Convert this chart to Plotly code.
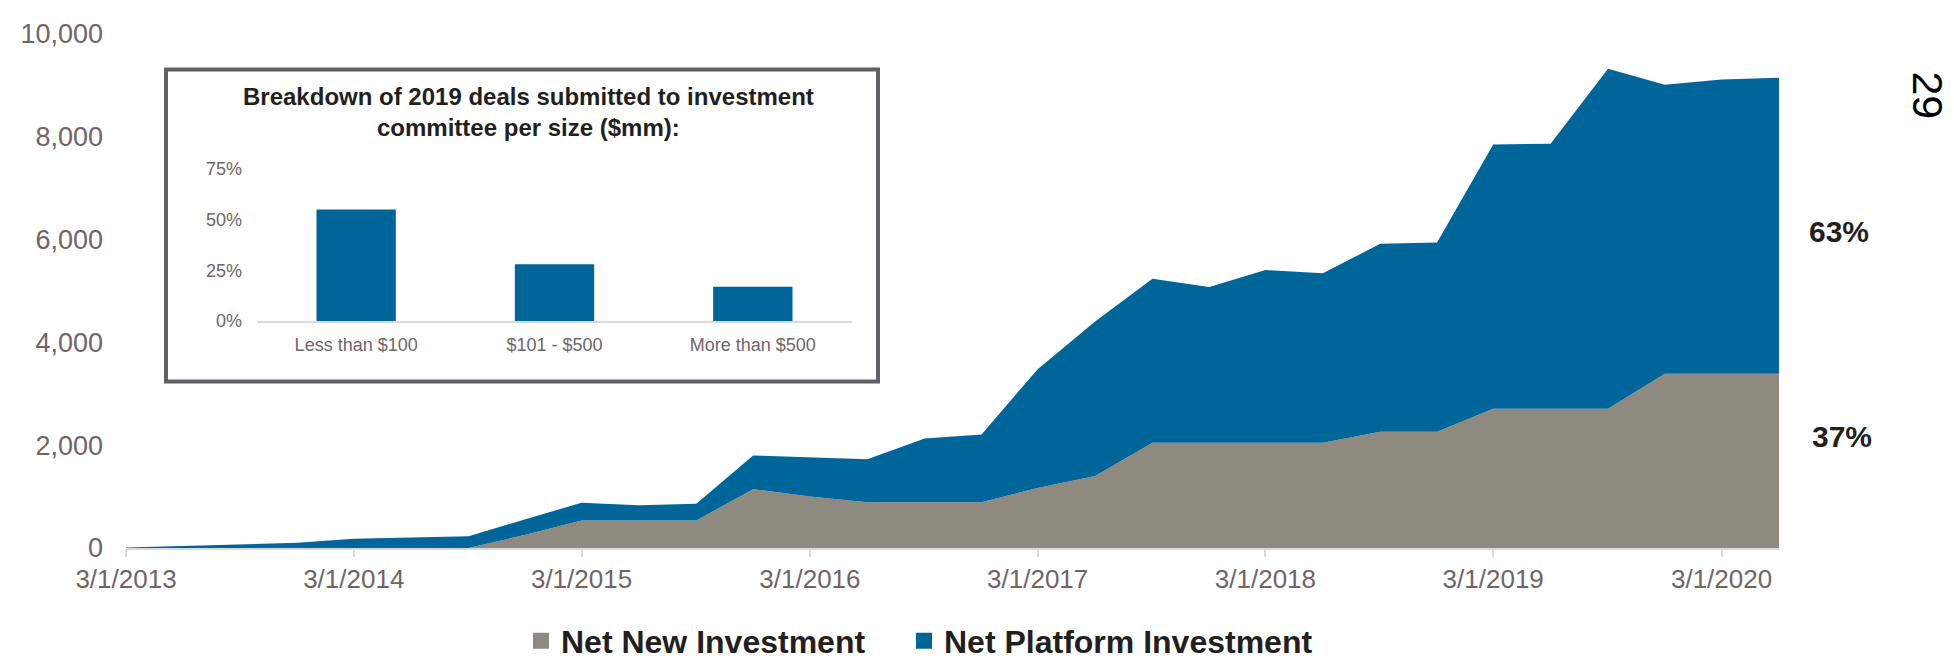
import plotly.graph_objects as go

# ---------------- data ----------------
quarters = [
    "2013-03-01", "2013-06-01", "2013-09-01", "2013-12-01",
    "2014-03-01", "2014-06-01", "2014-09-01", "2014-12-01",
    "2015-03-01", "2015-06-01", "2015-09-01", "2015-12-01",
    "2016-03-01", "2016-06-01", "2016-09-01", "2016-12-01",
    "2017-03-01", "2017-06-01", "2017-09-01", "2017-12-01",
    "2018-03-01", "2018-06-01", "2018-09-01", "2018-12-01",
    "2019-03-01", "2019-06-01", "2019-09-01", "2019-12-01",
    "2020-03-01", "2020-06-01",
]
net_new = [0, 0, 0, 0, 0, 0, 0, 256, 536, 536, 536, 1144, 1000, 888, 888, 888,
           1168, 1400, 2048, 2048, 2048, 2048, 2264, 2264, 2707, 2707, 2707,
           3392, 3392, 3392]
net_platform = [10, 40, 80, 100, 180, 200, 230, 304, 344, 294, 324, 656, 768,
                840, 1240, 1320, 2312, 3008, 3192, 3032, 3360, 3296, 3656, 3680,
                5143, 5159, 6616, 5621, 5724, 5756]

series_names = ["Net New Investment", "Net Platform Investment"]
year_ticks = ["2013-03-01", "2014-03-01", "2015-03-01", "2016-03-01",
              "2017-03-01", "2018-03-01", "2019-03-01", "2020-03-01"]
year_labels = ["3/1/2013", "3/1/2014", "3/1/2015", "3/1/2016",
               "3/1/2017", "3/1/2018", "3/1/2019", "3/1/2020"]
y_ticks = [0, 2000, 4000, 6000, 8000, 10000]

inset_title = "Breakdown of 2019 deals submitted to investment<br>committee per size ($mm):"
inset_cats = ["Less than $100", "$101 - $500", "More than $500"]
inset_vals = [0.55, 0.28, 0.17]
inset_ticks = [0, 0.25, 0.50, 0.75]

share_labels = ["63%", "37%"]
page_number = "29"

# ---------------- style ----------------
BLUE = "#006699"
GRAY = "#8f8a80"
TEXT = "#6f6569"
AXIS = "#d9d9d9"
FONT = "Arial, Liberation Sans, sans-serif"

W, H = 1954, 672
L, R, T, B = 118, 183, 26, 109
PW, PH = W - L - R, H - T - B


def px(x):
    return (x - L) / PW


def py(y):
    return (H - B - y) / PH


fig = go.Figure()

fig.add_trace(go.Scatter(
    x=quarters, y=net_new, name=series_names[0], stackgroup="one",
    mode="lines", line=dict(width=0, color=GRAY), fillcolor=GRAY,
    showlegend=False, hoverinfo="x+y"))
fig.add_trace(go.Scatter(
    x=quarters, y=net_platform, name=series_names[1], stackgroup="one",
    mode="lines", line=dict(width=0, color=BLUE), fillcolor=BLUE,
    showlegend=False, hoverinfo="x+y"))

# legend entries (square markers), one legend box each
for name, col, lg in zip(series_names, [GRAY, BLUE], ["legend", "legend2"]):
    fig.add_trace(go.Scatter(
        x=[None], y=[None], mode="markers", name=name, legend=lg,
        marker=dict(symbol="square", size=16, color=col)))

# inset bar chart
fig.add_trace(go.Bar(
    x=inset_cats, y=inset_vals, marker=dict(color=BLUE, line=dict(width=0)),
    xaxis="x2", yaxis="y2", showlegend=False))

legend_style = dict(
    orientation="h", xanchor="left", y=py(660), yanchor="middle",
    font=dict(size=32, color="#231f20", family=FONT, weight="bold"),
    itemsizing="trace", itemwidth=30, bgcolor="rgba(0,0,0,0)")

fig.update_layout(
    width=W, height=H,
    margin=dict(l=L, r=R, t=T, b=B),
    paper_bgcolor="white", plot_bgcolor="rgba(0,0,0,0)",
    font=dict(family=FONT, color=TEXT),
    bargap=0.6,
    showlegend=True,
    legend=dict(x=px(513), **legend_style),
    legend2=dict(x=px(896), **legend_style),
    xaxis=dict(
        type="date", range=[quarters[0], quarters[-1]],
        tickvals=year_ticks, ticktext=year_labels,
        showgrid=False, zeroline=False,
        showline=True, linecolor=AXIS, linewidth=2,
        ticks="outside", ticklen=7, tickcolor=AXIS, tickwidth=2,
        tickfont=dict(size=26, color=TEXT), ticklabelstandoff=0),
    yaxis=dict(
        range=[0, 10000], tickvals=y_ticks, tickformat=",",
        showgrid=False, zeroline=False, showline=False, ticks="",
        tickfont=dict(size=27, color=TEXT), ticklabelstandoff=22),
    xaxis2=dict(
        domain=[px(249), px(844)], anchor="y2",
        showgrid=False, zeroline=False,
        showline=True, linecolor=AXIS, linewidth=2, ticks="",
        tickfont=dict(size=18, color=TEXT), ticklabelstandoff=6),
    yaxis2=dict(
        domain=[py(326), py(167)], anchor="x2", range=[0, 0.75],
        tickvals=inset_ticks, tickformat=".0%",
        showgrid=False, zeroline=False, showline=False, ticks="",
        tickfont=dict(size=18, color=TEXT), ticklabelstandoff=14),
)

# inset frame
fig.add_shape(type="rect", xref="paper", yref="paper",
              x0=px(158), x1=px(870), y0=py(389), y1=py(63),
              line=dict(color="#5f6166", width=4), fillcolor="rgba(0,0,0,0)",
              layer="above")

common = dict(xref="paper", yref="paper", showarrow=False,
              xanchor="center", yanchor="middle")
annotations = [
    dict(text="<b>" + inset_title + "</b>", x=px(520), y=py(107),
         font=dict(size=24, color="#231f20"), align="center", **common),
    dict(text="<b>" + share_labels[0] + "</b>", x=px(1831), y=py(232),
         font=dict(size=30, color="#231f20"), **common),
    dict(text="<b>" + share_labels[1] + "</b>", x=px(1834), y=py(447),
         font=dict(size=30, color="#231f20"), **common),
    dict(text=page_number, x=px(1946), y=py(63), textangle=90,
         xref="paper", yref="paper", showarrow=False,
         xanchor="right", yanchor="top",
         font=dict(size=43, color="#000000")),
]
fig.update_layout(annotations=annotations)

fig.write_html("out.html")
